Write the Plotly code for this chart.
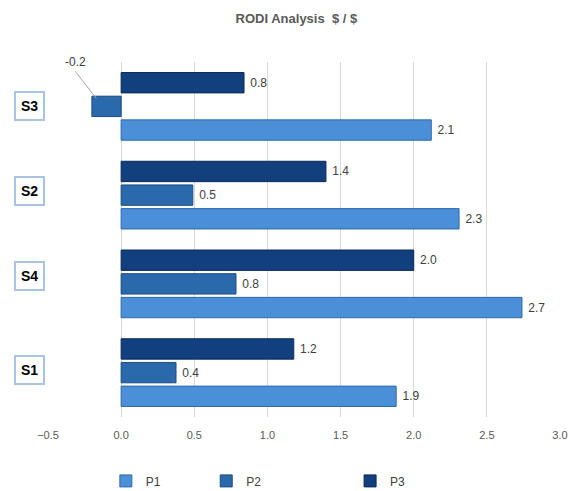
import plotly.graph_objects as go

categories = ["S1", "S4", "S2", "S3"]
p1 = [1.88, 2.74, 2.31, 2.12]
p2 = [0.375, 0.785, 0.49, -0.2]
p3 = [1.18, 2.0, 1.4, 0.84]
series_names = ["P1", "P2", "P3"]
colors = ["#4a8fd8", "#2a6aac", "#123f7e"]
line_colors = ["#2f6aa8", "#1b4c82", "#0a2a58"]
x_ticks = [-0.5, 0.0, 0.5, 1.0, 1.5, 2.0, 2.5, 3.0]

fig = go.Figure()
legend_ids = ["legend", "legend2", "legend3"]
for i, (name, vals) in enumerate(zip(series_names, [p1, p2, p3])):
    texts = [f" {v:.1f}" if v >= 0 else "" for v in vals]
    fig.add_trace(go.Bar(
        y=categories, x=vals, name=name, orientation="h",
        marker=dict(color=colors[i], line=dict(color=line_colors[i], width=1)),
        text=texts, textposition="outside", cliponaxis=False,
        textfont=dict(family="Liberation Sans, Arial", size=12, color="#404040"),
        legend=legend_ids[i],
    ))

# negative label with leader line
for c, v in zip(categories, p2):
    if v < 0:
        fig.add_annotation(x=v * 0.85, y=c, yshift=8, text=f"{v:.1f}", showarrow=True,
                           arrowhead=0, arrowwidth=1, arrowcolor="#a6a6a6",
                           ax=-21, ay=-27, xanchor="center", yanchor="bottom",
                           font=dict(family="Liberation Sans, Arial", size=12, color="#404040"))

# boxed category labels
shifts = {"S1": 3, "S4": 8, "S2": 4, "S3": 0}
for c in categories:
    fig.add_annotation(x=-0.037, xref="paper", y=c, yref="y", yshift=shifts[c],
                       text=f"<b>{c}</b>", showarrow=False, xanchor="center",
                       font=dict(family="Liberation Sans, Arial", size=14, color="#000000"),
                       bordercolor="#a8c3e6", borderwidth=2, borderpad=5, bgcolor="white")

legend_pos = [0.113, 0.309, 0.59]
layout_legends = {}
for lid, xp in zip(legend_ids, legend_pos):
    layout_legends[lid] = dict(x=xp, y=-0.18, xanchor="left", yanchor="middle",
                               orientation="h", bgcolor="rgba(0,0,0,0)",
                               font=dict(family="Liberation Sans, Arial", size=12, color="#404040"))

fig.update_layout(
    width=570, height=491,
    margin=dict(l=48, r=10, t=62, b=74, autoexpand=False),
    paper_bgcolor="white", plot_bgcolor="white",
    title=dict(text="<b>RODI Analysis  $ / $</b>", x=0.52, xanchor="center", y=0.963, yanchor="middle",
               font=dict(family="Liberation Sans, Arial", size=13, color="#595959")),
    barmode="group", bargap=0.2, bargroupgap=0.14,
    showlegend=True,
    xaxis=dict(range=[-0.5, 3.0], tickvals=x_ticks, tickformat=".1f",
               showgrid=True, gridcolor="#d9d9d9", gridwidth=1,
               zeroline=True, zerolinecolor="#d9d9d9", zerolinewidth=1,
               showline=False, ticks="", ticklabelstandoff=10,
               tickfont=dict(family="Liberation Sans, Arial", size=11, color="#595959")),
    yaxis=dict(showticklabels=False, showgrid=False, zeroline=False, showline=False,
               categoryorder="array", categoryarray=categories, range=[-0.5, 3.5]),
    **layout_legends,
)

fig.write_html("out.html")
